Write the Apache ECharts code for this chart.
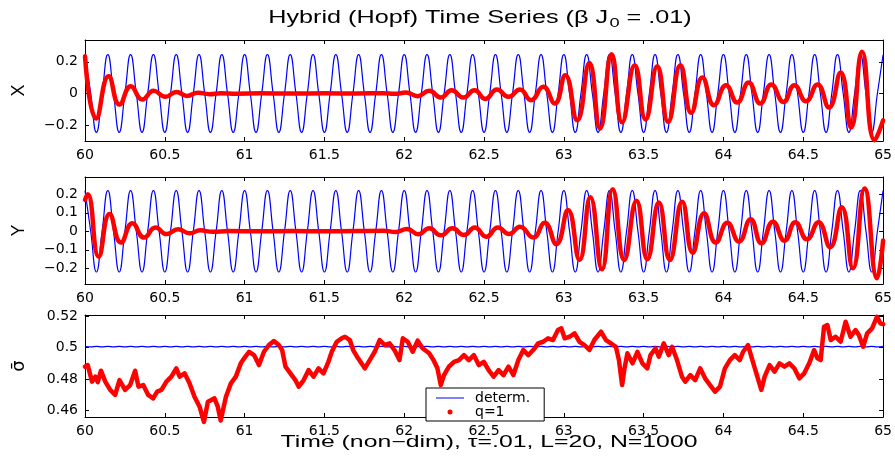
<!DOCTYPE html>
<html>
<head>
<meta charset="utf-8">
<script src="https://cdn.jsdelivr.net/npm/echarts@6/dist/echarts.min.js"></script>
<style>
  html, body { margin: 0; padding: 0; background: #ffffff; }
  #chart { width: 895px; height: 456px; }
</style>
</head>
<body>
<div id="chart"></div>
<script>
// Deterministic solution, sampled every quarter period (period 1/7 time unit)
const detStep = 1 / 28;
const xDet = [
  0.245,0,-0.245,0, 0.245,0,-0.245,0, 0.245,0,-0.245,0, 0.245,0,-0.245,0, 0.245,0,-0.245,0, 0.245,0,-0.245,0, 0.245,0,-0.245,0,
  0.245,0,-0.245,0, 0.245,0,-0.245,0, 0.245,0,-0.245,0, 0.245,0,-0.245,0, 0.245,0,-0.245,0, 0.245,0,-0.245,0, 0.245,0,-0.245,0,
  0.245,0,-0.245,0, 0.245,0,-0.245,0, 0.245,0,-0.245,0, 0.245,0,-0.245,0, 0.245,0,-0.245,0, 0.245,0,-0.245,0, 0.245,0,-0.245,0,
  0.245,0,-0.245,0, 0.245,0,-0.245,0, 0.245,0,-0.245,0, 0.245,0,-0.245,0, 0.245,0,-0.245,0, 0.245,0,-0.245,0, 0.245,0,-0.245,0,
  0.245,0,-0.245,0, 0.245,0,-0.245,0, 0.245,0,-0.245,0, 0.245,0,-0.245,0, 0.245,0,-0.245,0, 0.245,0,-0.245,0, 0.245,0,-0.245,0,
  0.245
];
const yDet = [
  0.22,0,-0.22,0, 0.22,0,-0.22,0, 0.22,0,-0.22,0, 0.22,0,-0.22,0, 0.22,0,-0.22,0, 0.22,0,-0.22,0, 0.22,0,-0.22,0,
  0.22,0,-0.22,0, 0.22,0,-0.22,0, 0.22,0,-0.22,0, 0.22,0,-0.22,0, 0.22,0,-0.22,0, 0.22,0,-0.22,0, 0.22,0,-0.22,0,
  0.22,0,-0.22,0, 0.22,0,-0.22,0, 0.22,0,-0.22,0, 0.22,0,-0.22,0, 0.22,0,-0.22,0, 0.22,0,-0.22,0, 0.22,0,-0.22,0,
  0.22,0,-0.22,0, 0.22,0,-0.22,0, 0.22,0,-0.22,0, 0.22,0,-0.22,0, 0.22,0,-0.22,0, 0.22,0,-0.22,0, 0.22,0,-0.22,0,
  0.22,0,-0.22,0, 0.22,0,-0.22,0, 0.22,0,-0.22,0, 0.22,0,-0.22,0, 0.22,0,-0.22,0, 0.22,0,-0.22,0, 0.22,0,-0.22,0,
  0.22
];
const sigmaDet = [
  0.5009,0.5005,0.5009,0.5005,0.5009,0.5005,0.5009,0.5005,0.5009,0.5005,0.5009,0.5005,0.5009,0.5005,0.5009,0.5005,0.5009,0.5005,0.5009,0.5005,0.5009,0.5005,0.5009,0.5005,0.5009,0.5005,0.5009,0.5005,
  0.5009,0.5005,0.5009,0.5005,0.5009,0.5005,0.5009,0.5005,0.5009,0.5005,0.5009,0.5005,0.5009,0.5005,0.5009,0.5005,0.5009,0.5005,0.5009,0.5005,0.5009,0.5005,0.5009,0.5005,0.5009,0.5005,0.5009,0.5005,
  0.5009,0.5005,0.5009,0.5005,0.5009,0.5005,0.5009,0.5005,0.5009,0.5005,0.5009,0.5005,0.5009,0.5005,0.5009,0.5005,0.5009,0.5005,0.5009,0.5005,0.5009,0.5005,0.5009,0.5005,0.5009,0.5005,0.5009,0.5005,
  0.5009,0.5005,0.5009,0.5005,0.5009,0.5005,0.5009,0.5005,0.5009,0.5005,0.5009,0.5005,0.5009,0.5005,0.5009,0.5005,0.5009,0.5005,0.5009,0.5005,0.5009,0.5005,0.5009,0.5005,0.5009,0.5005,0.5009,0.5005,
  0.5009,0.5005,0.5009,0.5005,0.5009,0.5005,0.5009,0.5005,0.5009,0.5005,0.5009,0.5005,0.5009,0.5005,0.5009,0.5005,0.5009,0.5005,0.5009,0.5005,0.5009,0.5005,0.5009,0.5005,0.5009,0.5005,0.5009,0.5005,
  0.5009
];

// Hybrid run (q = 1): turning points of X
const xHybT = [60.000,60.070,60.148,60.216,60.287,60.359,60.430,60.504,60.573,60.639,60.707,60.780,60.850,60.950,61.100,61.300,61.500,61.700,61.870,61.940,
  62.011,62.084,62.157,62.229,62.297,62.370,62.440,62.508,62.581,62.653,62.725,62.794,62.871,62.943,63.009,63.084,63.160,63.227,63.299,63.365,
  63.444,63.512,63.585,63.653,63.730,63.798,63.868,63.941,64.016,64.086,64.158,64.231,64.300,64.376,64.444,64.517,64.589,64.661,64.734,64.800,
  64.868,64.947,65.000];
const xHybV = [0.235,-0.158,0.109,-0.070,0.046,-0.038,0.017,-0.021,0.010,-0.015,0.005,-0.004,0.002,-0.001,0.001,0.000,0.001,0.000,0.002,-0.002,
  0.006,-0.017,0.017,-0.025,0.021,-0.025,0.021,-0.034,0.025,-0.021,0.025,-0.042,0.042,-0.063,0.116,-0.169,0.193,-0.221,0.248,-0.182,
  0.179,-0.164,0.172,-0.179,0.179,-0.122,0.101,-0.074,0.052,-0.057,0.069,-0.063,0.057,-0.053,0.052,-0.049,0.057,-0.088,0.133,-0.215,
  0.263,-0.295,-0.170];

// Hybrid run (q = 1): turning points of Y
const yHybT = [60.000,60.017,60.086,60.154,60.225,60.297,60.370,60.442,60.510,60.583,60.655,60.722,60.800,60.900,61.100,61.300,61.500,61.700,61.870,61.945,
  62.017,62.088,62.157,62.229,62.302,62.374,62.442,62.514,62.587,62.657,62.725,62.808,62.880,62.953,63.026,63.098,63.166,63.239,63.306,63.378,
  63.455,63.523,63.595,63.664,63.741,63.807,63.879,63.952,64.024,64.097,64.170,64.238,64.310,64.383,64.450,64.523,64.595,64.668,64.741,64.811,
  64.884,64.962,65.000];
const yHybV = [0.170,0.200,-0.137,0.094,-0.061,0.043,-0.034,0.020,-0.015,0.011,-0.011,0.005,-0.003,0.001,0.000,0.001,0.000,0.001,0.003,-0.004,
  0.012,-0.016,0.016,-0.022,0.016,-0.020,0.020,-0.029,0.020,-0.015,0.025,-0.034,0.046,-0.070,0.115,-0.155,0.184,-0.205,0.227,-0.155,
  0.165,-0.151,0.155,-0.155,0.160,-0.116,0.097,-0.061,0.046,-0.056,0.065,-0.065,0.052,-0.051,0.049,-0.043,0.049,-0.086,0.130,-0.200,
  0.232,-0.254,-0.050];

// Hybrid run (q = 1): mean sigma
const sigHybT = [60.000,60.017,60.044,60.065,60.080,60.100,60.127,60.158,60.189,60.216,60.251,60.283,60.314,60.335,60.365,60.396,60.427,60.452,60.479,60.510,
  60.541,60.572,60.593,60.624,60.655,60.686,60.718,60.745,60.770,60.811,60.832,60.850,60.883,60.914,60.945,60.976,60.997,61.028,61.059,61.090,
  61.121,61.152,61.183,61.214,61.235,61.256,61.287,61.318,61.339,61.370,61.401,61.432,61.463,61.494,61.525,61.546,61.577,61.608,61.629,61.659,
  61.680,61.711,61.753,61.784,61.815,61.846,61.877,61.908,61.939,61.970,61.991,62.022,62.053,62.084,62.115,62.156,62.183,62.208,62.229,62.249,
  62.280,62.312,62.343,62.374,62.405,62.436,62.467,62.498,62.529,62.560,62.591,62.622,62.653,62.684,62.715,62.746,62.777,62.808,62.839,62.870,
  62.901,62.932,62.963,62.984,63.005,63.036,63.067,63.098,63.129,63.160,63.191,63.233,63.264,63.295,63.326,63.345,63.365,63.378,63.398,63.430,
  63.461,63.492,63.523,63.543,63.574,63.595,63.626,63.657,63.678,63.709,63.740,63.761,63.792,63.823,63.854,63.885,63.916,63.947,63.978,64.009,
  64.040,64.071,64.102,64.123,64.154,64.175,64.206,64.237,64.258,64.289,64.320,64.351,64.382,64.413,64.444,64.475,64.506,64.537,64.568,64.589,
  64.609,64.630,64.651,64.672,64.703,64.734,64.765,64.796,64.827,64.848,64.875,64.900,64.931,64.962,64.983,65.000];
const sigHybV = [0.4879,0.4889,0.4783,0.4815,0.4780,0.4853,0.4783,0.4730,0.4698,0.4793,0.4730,0.4761,0.4853,0.4751,0.4761,0.4698,0.4676,0.4719,0.4730,0.4783,
  0.4815,0.4868,0.4815,0.4836,0.4772,0.4687,0.4623,0.4525,0.4655,0.4676,0.4623,0.4535,0.4687,0.4772,0.4815,0.4900,0.4932,0.4974,0.4953,0.4889,
  0.4974,0.5017,0.5043,0.5017,0.4985,0.4879,0.4836,0.4793,0.4751,0.4793,0.4857,0.4815,0.4868,0.4836,0.4910,0.4974,0.5038,0.5060,0.5070,0.5049,
  0.4985,0.4932,0.4868,0.4921,0.4974,0.5049,0.5017,0.5028,0.4985,0.4921,0.5060,0.5038,0.4974,0.5045,0.4996,0.4964,0.4921,0.4868,0.4761,0.4825,
  0.4879,0.4910,0.4921,0.4953,0.4921,0.4953,0.4889,0.4910,0.4857,0.4815,0.4857,0.4825,0.4879,0.4825,0.4921,0.4985,0.4953,0.4985,0.5028,0.5038,
  0.5060,0.5049,0.5113,0.5124,0.5060,0.5070,0.5092,0.5038,0.5017,0.4985,0.5049,0.5102,0.5049,0.5028,0.5006,0.4921,0.4761,0.4857,0.4964,0.4900,
  0.4974,0.4900,0.4868,0.4953,0.4996,0.4942,0.5028,0.4953,0.5006,0.4921,0.4815,0.4783,0.4825,0.4793,0.4868,0.4804,0.4761,0.4719,0.4751,0.4868,
  0.4921,0.4953,0.4921,0.4974,0.5017,0.4942,0.4836,0.4730,0.4815,0.4889,0.4847,0.4900,0.4879,0.4900,0.4868,0.4804,0.4836,0.4900,0.4985,0.4932,
  0.4921,0.5134,0.5145,0.5049,0.5070,0.5038,0.5166,0.5070,0.5113,0.5081,0.5006,0.5092,0.5124,0.5198,0.5156,0.5150];

// Axis ticks
const timeTicks = [60, 60.5, 61, 61.5, 62, 62.5, 63, 63.5, 64, 64.5, 65];
const xTicks = [-0.2, 0, 0.2];
const yTicks = [-0.2, -0.1, 0, 0.1, 0.2];
const sigmaTicks = [0.46, 0.48, 0.5, 0.52];

const TICK_FONT = 'DejaVu Sans';
const TEXT_FONT = 'Liberation Sans';

const panels = [
  { top: 40,  height: 101, min: -0.3,   max: 0.338,  ticks: xTicks,     name: 'X',              nameFont: TEXT_FONT },
  { top: 177, height: 107, min: -0.285, max: 0.2935, ticks: yTicks,     name: 'Y',              nameFont: TEXT_FONT },
  { top: 315, height: 102, min: 0.4557, max: 0.5209, ticks: sigmaTicks, name: '\u03c3\u0304', nameFont: 'DejaVu Sans' }
];

function numLabel(v) {
  const s = String(Math.abs(Math.round(v * 1000) / 1000));
  return (v < 0 ? '\u2212' : '') + s;
}

const lineBlack = { show: true, onZero: false, lineStyle: { color: '#000', width: 1 } };
const tickIn = { show: true, inside: true, length: 4, lineStyle: { color: '#000', width: 1 } };

const grid = [], xAxis = [], yAxis = [];
panels.forEach((p, i) => {
  grid.push({ left: 85, width: 804, top: p.top, height: p.height, containLabel: false });
  ['bottom', 'top'].forEach(pos => {
    xAxis.push({
      type: 'value', gridIndex: i, position: pos,
      min: timeTicks[0], max: timeTicks[timeTicks.length - 1], interval: 0.5,
      axisLine: lineBlack, axisTick: tickIn, splitLine: { show: false },
      axisLabel: {
        show: pos === 'bottom', color: '#000', fontFamily: TICK_FONT, fontSize: 14, margin: 7,
        formatter: v => numLabel(v)
      }
    });
  });
  ['left', 'right'].forEach(pos => {
    const isLeft = pos === 'left';
    yAxis.push({
      type: 'value', gridIndex: i, position: pos, min: p.min, max: p.max,
      name: isLeft ? p.name : '', nameLocation: 'middle', nameRotate: 90, nameGap: 57,
      nameTextStyle: { color: '#000', fontFamily: p.nameFont, fontSize: 18 },
      axisLine: lineBlack,
      axisTick: Object.assign({}, tickIn, { customValues: p.ticks }),
      splitLine: { show: false },
      axisLabel: {
        show: isLeft, customValues: p.ticks, color: '#000',
        fontFamily: TICK_FONT, fontSize: 14, margin: 7,
        formatter: v => numLabel(v)
      }
    });
  });
});

const pairs = (ts, vs) => ts.map((t, i) => [t, vs[i]]);
const detPairs = vs => vs.map((v, i) => [timeTicks[0] + i * detStep, v]);

const BLUE = '#0000ff', RED = '#ff0000';

function detSeries(name, k, vs) {
  return {
    name, type: 'line', xAxisIndex: 2 * k, yAxisIndex: 2 * k, data: detPairs(vs),
    symbol: 'none', smooth: 0.5, silent: true,
    lineStyle: { color: BLUE, width: 1.2 }, itemStyle: { color: BLUE }
  };
}
function hybSeries(name, k, ts, vs, smooth, clip) {
  return {
    name, type: 'line', xAxisIndex: 2 * k, yAxisIndex: 2 * k, data: pairs(ts, vs),
    symbol: 'none', smooth: smooth, clip: clip, silent: true,
    lineStyle: { color: RED, width: 4.5, join: 'round', cap: 'round' }, itemStyle: { color: RED }
  };
}

const option = {
  animation: false,
  backgroundColor: '#ffffff',
  grid, xAxis, yAxis,
  legend: {
    show: true, orient: 'vertical', left: 426, top: 388,
    padding: [3, 14, 2, 10], itemGap: 0, itemWidth: 28, itemHeight: 5,
    backgroundColor: '#ffffff', borderColor: '#000', borderWidth: 1, borderRadius: 0,
    selectedMode: false,
    textStyle: { fontFamily: TICK_FONT, fontSize: 14, color: '#000', lineHeight: 13, padding: [0, 0, 0, 6] },
    data: [
      { name: 'determ.', icon: 'path://M0,0 L28,0 L28,1 L0,1 Z', itemStyle: { color: BLUE } },
      { name: 'q=1', icon: 'circle' }
    ]
  },
  series: [
    detSeries('X determ.', 0, xDet),
    hybSeries('X q=1', 0, xHybT, xHybV, 0.5, true),
    detSeries('Y determ.', 1, yDet),
    hybSeries('Y q=1', 1, yHybT, yHybV, 0.5, true),
    detSeries('determ.', 2, sigmaDet),
    hybSeries('q=1', 2, sigHybT, sigHybV, false, false)
  ],
  graphic: [
    {
      type: 'text', x: 480, y: 18, scaleX: 1.4, silent: true,
      style: {
        text: 'Hybrid (Hopf) Time Series (\u03b2 J{sub|0} = .01)',
        fill: '#000', font: '18px "Liberation Sans"', textAlign: 'center', textVerticalAlign: 'middle',
        rich: { sub: { fontSize: 13, fontFamily: TEXT_FONT, verticalAlign: 'bottom', padding: [10, 0, 0, 1] } }
      }
    },
    {
      type: 'text', x: 489, y: 443, scaleX: 1.55, silent: true,
      style: {
        text: 'Time (non\u2212dim), \u03c4=.01, L=20, N=1000',
        fill: '#000', font: '16px "Liberation Sans"', textAlign: 'center', textVerticalAlign: 'middle'
      }
    }
  ]
};

const chart = echarts.init(document.getElementById('chart'), null, { renderer: 'canvas' });
chart.setOption(option);
</script>
</body>
</html>
